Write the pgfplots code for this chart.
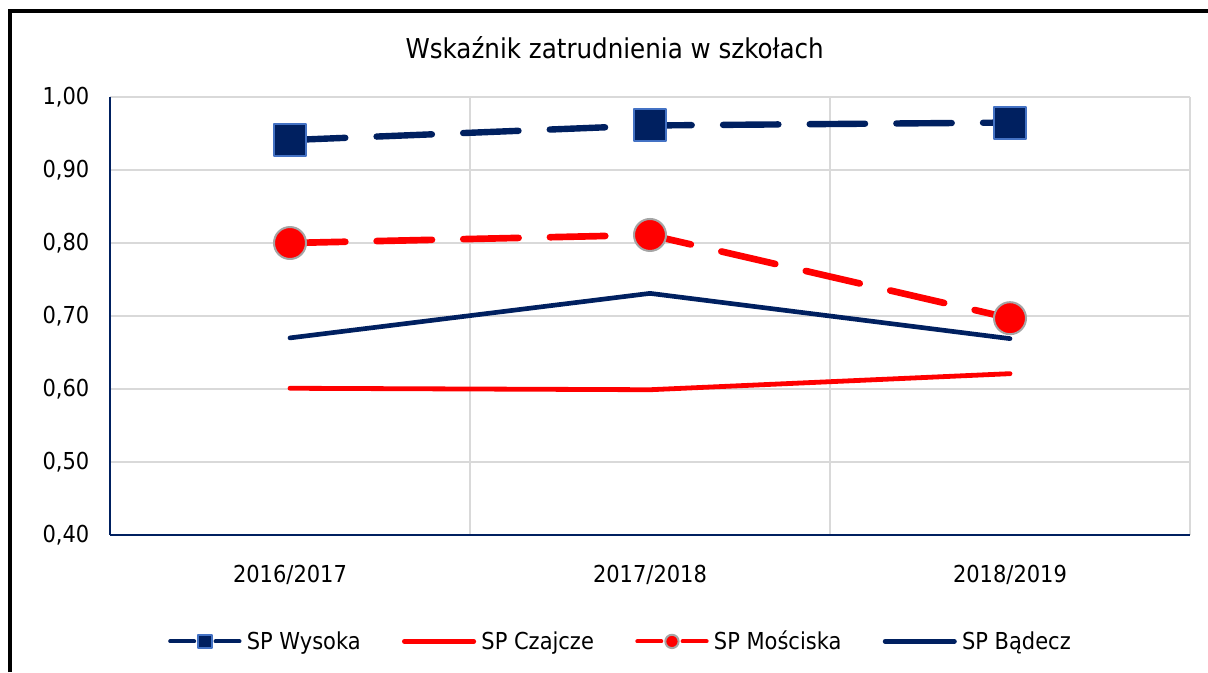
\documentclass[border=0pt]{standalone}
\usepackage{pgfplots}
\pgfplotsset{compat=1.18}
\usepackage{fontspec}
\setmainfont{DejaVu Sans Condensed}
\definecolor{navy}{HTML}{002060}
\definecolor{mkblue}{HTML}{4472C4}
\definecolor{gridgray}{HTML}{D9D9D9}
\definecolor{mkgray}{HTML}{A5A5A5}
\begin{document}
\begin{tikzpicture}
\path[fill=white,use as bounding box] (0,0) rectangle (906pt,-504pt);
\draw[black, line width=3pt, line join=miter] (7.7pt,-504pt) -- (7.7pt,-8.5pt) -- (906pt,-8.5pt);
\node[font=\fontsize{20.5}{24}\selectfont, inner sep=0pt] at (461pt,-36pt) {Wskaźnik zatrudnienia w szkołach};
\begin{axis}[
  at={(82.5pt,-72.75pt)}, anchor=north west,
  scale only axis, width=810pt, height=328.5pt,
  xmin=-0.5, xmax=2.5, ymin=0.4, ymax=1.0,
  axis x line*=bottom, axis y line*=left,
  axis line style={navy, line width=1.5pt, -},
  xtick={0,1,2}, xticklabels={2016/2017,2017/2018,2018/2019},
  minor xtick={0.5,1.5,2.5},
  xminorgrids=true,
  ytick={0.4,0.5,0.6,0.7,0.8,0.9,1.0},
  ymajorgrids=true,
  grid style={gridgray, line width=1.2pt},
  minor grid style={gridgray, line width=1.2pt},
  major tick length=0pt, minor tick length=0pt,
  tick label style={font=\fontsize{17.5}{21}\selectfont},
  /pgf/number format/assume math mode=true,
  yticklabel style={/pgf/number format/fixed, /pgf/number format/fixed zerofill,
    /pgf/number format/precision=2, /pgf/number format/use comma, xshift=-12pt},
  xticklabel style={yshift=-19pt},
  legend style={at={(0.473,-0.243)}, anchor=center, draw=none, fill=none,
    font=\fontsize{17.5}{21}\selectfont, legend columns=4,
    /tikz/every even column/.append style={column sep=29pt},
    /tikz/every odd column/.append style={column sep=2pt}},
  legend cell align=left,
  legend image code/.code={\draw[mark repeat=2,mark phase=2] plot coordinates {(0pt,0pt)(26pt,0pt)(52pt,0pt)};},
  every axis plot/.append style={line cap=round, line join=round},
  clip=false,
]
\addplot[navy, line width=4.8pt, dash pattern=on 41.5pt off 23.5pt,
  mark=square*, mark size=12pt, mark options={solid, fill=navy, draw=mkblue, line width=1.5pt},
  legend image code/.code={\draw[mark repeat=2,mark phase=2, mark size=5pt, line width=3pt, dash pattern=on 18pt off 16pt] plot coordinates {(0pt,0pt)(26pt,0pt)(52pt,0pt)};}]
  coordinates {(0,0.941) (1,0.961) (2,0.965)};
\addlegendentry{SP Wysoka}
\addplot[red, line width=3.6pt, no marks] coordinates {(0,0.601) (1,0.599) (2,0.621)};
\addlegendentry{SP Czajcze}
\addplot[red, line width=5pt, dash pattern=on 41.5pt off 23.5pt,
  mark=*, mark size=12pt, mark options={solid, fill=red, draw=mkgray, line width=1.5pt},
  legend image code/.code={\draw[mark repeat=2,mark phase=2, mark size=5pt, line width=3pt, dash pattern=on 18pt off 16pt] plot coordinates {(0pt,0pt)(26pt,0pt)(52pt,0pt)};}]
  coordinates {(0,0.800) (1,0.811) (2,0.697)};
\addlegendentry{SP Mościska}
\addplot[navy, line width=3.5pt, no marks] coordinates {(0,0.670) (1,0.731) (2,0.669)};
\addlegendentry{SP Bądecz}
\end{axis}
\end{tikzpicture}
\end{document}
